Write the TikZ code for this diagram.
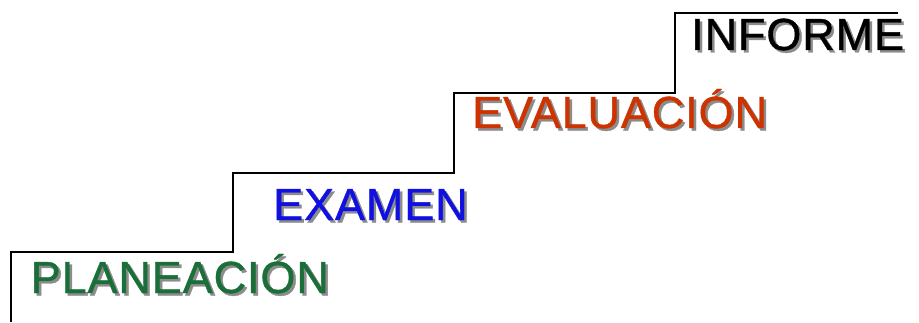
\documentclass[tikz,border=0pt]{standalone}
\usepackage{fontspec}
\setmainfont{Liberation Sans}
\newfontfamily\stepfont{Liberation Sans}[LetterSpace=2,FakeBold=0.8]
\definecolor{stepgreen}{RGB}{26,110,56}
\definecolor{stepblue}{RGB}{16,16,224}
\definecolor{steporange}{RGB}{204,51,0}
\definecolor{shadowgray}{RGB}{140,140,140}
\begin{document}
\begin{tikzpicture}[x=1pt,y=1pt,
  label/.style={anchor=base west,inner sep=0pt,font=\stepfont\fontsize{45}{54}\selectfont},
  shade/.style={label,text=shadowgray},
  stair/.style={draw=black,line width=1.2pt}]
\useasboundingbox (0,0) rectangle (919,322);
% staircase outline
\coordinate (s0) at (11,0);
\coordinate (s1) at (11,70);
\coordinate (s2) at (233,70);
\coordinate (s3) at (233,149);
\coordinate (s4) at (454,149);
\coordinate (s5) at (454,229);
\coordinate (s6) at (675,229);
\coordinate (s7) at (675,309);
\coordinate (s8) at (898,309);
\draw[stair] (s0) -- (s1) -- (s2) -- (s3) -- (s4) -- (s5) -- (s6) -- (s7) -- (s8);
% step labels with drop shadows
\node[shade] (planS) at (33,26.5) {PLANEACIÓN};
\node[label,text=stepgreen] (plan) at (30.5,29) {PLANEACIÓN};
\node[shade] (examS) at (275.5,99.5) {EXAMEN};
\node[label,text=stepblue] (exam) at (273,102) {EXAMEN};
\node[shade] (evalS) at (474.5,191.5) {EVALUACIÓN};
\node[label,text=steporange] (eval) at (472,194) {EVALUACIÓN};
\node[shade] (infS) at (693.5,269.5) {INFORME};
\node[label,text=black] (inf) at (691,272) {INFORME};
\end{tikzpicture}
\end{document}
